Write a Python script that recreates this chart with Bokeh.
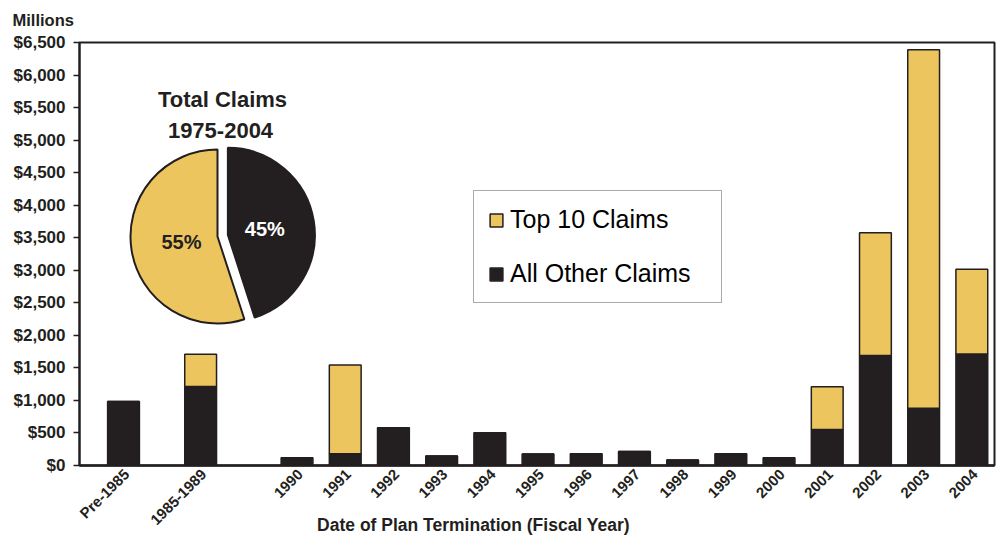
import numpy as np
from math import pi
from bokeh.plotting import figure
from bokeh.models import (Range1d, FixedTicker, NumeralTickFormatter, Legend,
                          LegendItem, Label, ColumnDataSource)
from bokeh.embed import file_html
from bokeh.resources import INLINE
from bokeh.core.properties import value

# ---------------- data ----------------
categories = ["Pre-1985", "1985-1989", "1990", "1991", "1992", "1993", "1994",
              "1995", "1996", "1997", "1998", "1999", "2000", "2001", "2002",
              "2003", "2004"]
all_other = [985, 1215, 120, 180, 580, 145, 505, 175, 180, 215, 85, 180, 118,
             555, 1690, 880, 1715]
top10 = [0, 495, 0, 1365, 0, 0, 0, 0, 0, 0, 0, 0, 0, 655, 1885, 5510, 1300]
legend_labels = ["Top 10 Claims", "All Other Claims"]
pie_labels = ["55%", "45%"]
pie_shares = [55, 45]
pie_title = ["Total Claims", "1975-2004"]
y_ticks = list(range(0, 6501, 500))
x_title = "Date of Plan Termination (Fiscal Year)"
y_title = "Millions"

# ---------------- style / layout ----------------
YELLOW = "#EDC55E"
DARK = "#231F20"
FONT = "Liberation Sans"
W, H = 996, 538
ML, MR, MT, MB = 79, 2, 42, 73
FW = W - ML - MR
FH = H - MT - MB
PX_PER_UNIT = 48.2

# slot gaps: the two multi-year periods get wider spacing
gaps = [0.0, 1.6, 2.0] + [1.0] * (len(categories) - 3)
xs = np.cumsum(gaps)
bar_w = 0.66
x_start = xs[0] - 0.913
x_end = x_start + FW / PX_PER_UNIT
label_shift = 0.06

src = ColumnDataSource(dict(x=xs, other=all_other, top=top10))

p = figure(width=W, height=H, output_backend="svg", toolbar_location=None,
           tools="", x_range=Range1d(x_start, x_end),
           y_range=Range1d(0, 6500),
           min_border_left=ML, min_border_right=MR,
           min_border_top=MT, min_border_bottom=MB)
p.extra_x_ranges = {"px": Range1d(0, FW)}
p.extra_y_ranges = {"px": Range1d(0, FH)}
p.background_fill_color = "white"
p.border_fill_color = "white"
p.outline_line_color = DARK
p.outline_line_width = 2
p.xgrid.visible = False
p.ygrid.visible = False

r_other, r_top = p.vbar_stack(["other", "top"], x="x", width=bar_w, source=src,
                              fill_color=[DARK, YELLOW], line_color=DARK,
                              line_width=1.5)

# ---------------- axes ----------------
ya = p.yaxis[0]
ya.ticker = FixedTicker(ticks=y_ticks)
ya.formatter = NumeralTickFormatter(format="$0,0")
ya.major_label_text_font = FONT
ya.major_label_text_font_style = "bold"
ya.major_label_text_font_size = "17px"
ya.major_label_text_color = DARK
ya.major_label_standoff = 8
ya.axis_line_width = 2
ya.axis_line_color = DARK
ya.major_tick_out = 6
ya.major_tick_in = 0
ya.major_tick_line_width = 1.5
ya.major_tick_line_color = DARK
ya.minor_tick_line_color = None

tick_pos = [float(v + label_shift) for v in xs]
xa = p.xaxis[0]
xa.ticker = FixedTicker(ticks=tick_pos)
xa.major_label_overrides = {t: c for t, c in zip(tick_pos, categories)}
xa.major_label_orientation = pi / 4
xa.major_label_text_font = FONT
xa.major_label_text_font_style = "bold"
xa.major_label_text_font_size = "15px"
xa.major_label_text_color = DARK
xa.major_label_standoff = 6
xa.axis_line_width = 2.5
xa.axis_line_color = DARK
xa.major_tick_out = 0
xa.major_tick_in = 0
xa.minor_tick_line_color = None
xa.major_tick_line_color = None

# outer texts live in the (42px) top side panel; each label panel is ~20px,
# coordinates are relative to that panel, so they can reach the bottom band.
p.add_layout(Label(x=394, y=-482, x_units="screen", y_units="screen",
                   text=x_title, text_align="center", text_baseline="middle",
                   text_font=FONT, text_font_style="bold",
                   text_font_size="17.5px", text_color=DARK), "above")
p.add_layout(Label(x=-67, y=3, x_units="screen", y_units="screen",
                   text=y_title, text_align="left", text_baseline="middle",
                   text_font=FONT, text_font_style="bold",
                   text_font_size="16.5px", text_color=DARK), "above")

# ---------------- legend ----------------
legend = Legend(items=[LegendItem(label=legend_labels[0], renderers=[r_top]),
                       LegendItem(label=legend_labels[1], renderers=[r_other])],
                location=(394, 162), orientation="vertical",
                label_text_font=FONT, label_text_font_size="25px",
                label_text_color="black", glyph_width=16, glyph_height=16,
                label_standoff=6, padding=14, spacing=25, label_width=197,
                border_line_color="#555555", border_line_width=1.5,
                background_fill_color="white", background_fill_alpha=1.0)
p.add_layout(legend)

# ---------------- pie (frame pixel coordinates) ----------------
cx, cy, R = 138.0, 229.0, 87
explode = 10.5
fr = np.array(pie_shares, dtype=float) / sum(pie_shares)
# black (second) slice ends at 12 o'clock, yellow runs counter-clockwise from there
start_y = pi / 2
end_y = start_y + fr[0] * 2 * pi
end_b = pi / 2
start_b = end_b - fr[1] * 2 * pi
mid_b = (start_b + end_b) / 2
mid_y = (start_y + end_y) / 2
bx = cx + explode * np.cos(mid_b)
by = cy + explode * np.sin(mid_b)

p.wedge(x=[cx], y=[cy], radius=R, radius_units="screen",
        start_angle=[start_y], end_angle=[end_y], direction="anticlock",
        fill_color=YELLOW, line_color=DARK, line_width=2,
        x_range_name="px", y_range_name="px")
p.wedge(x=[bx], y=[by], radius=R, radius_units="screen",
        start_angle=[start_b], end_angle=[end_b], direction="anticlock",
        fill_color=DARK, line_color=DARK, line_width=2,
        x_range_name="px", y_range_name="px")

lab_src = ColumnDataSource(dict(
    x=[cx + 0.42 * R * np.cos(mid_y), bx + 0.43 * R * np.cos(mid_b)],
    y=[cy + 0.42 * R * np.sin(mid_y), by + 0.43 * R * np.sin(mid_b)],
    t=pie_labels, c=[DARK, "white"]))
p.text(x="x", y="y", text="t", text_color="c", source=lab_src,
       text_font=value(FONT), text_font_style="bold", text_font_size="20px",
       text_align="center", text_baseline="middle",
       x_range_name="px", y_range_name="px")

p.add_layout(Label(x=143, y=366, x_units="screen", y_units="screen",
                   text=pie_title[0], text_align="center", text_baseline="middle",
                   text_font=FONT, text_font_style="bold",
                   text_font_size="22px", text_color=DARK))
p.add_layout(Label(x=141, y=335, x_units="screen", y_units="screen",
                   text=pie_title[1], text_align="center", text_baseline="middle",
                   text_font=FONT, text_font_style="bold",
                   text_font_size="22px", text_color=DARK))

with open("out.html", "w") as f:
    f.write(file_html(p, INLINE))
